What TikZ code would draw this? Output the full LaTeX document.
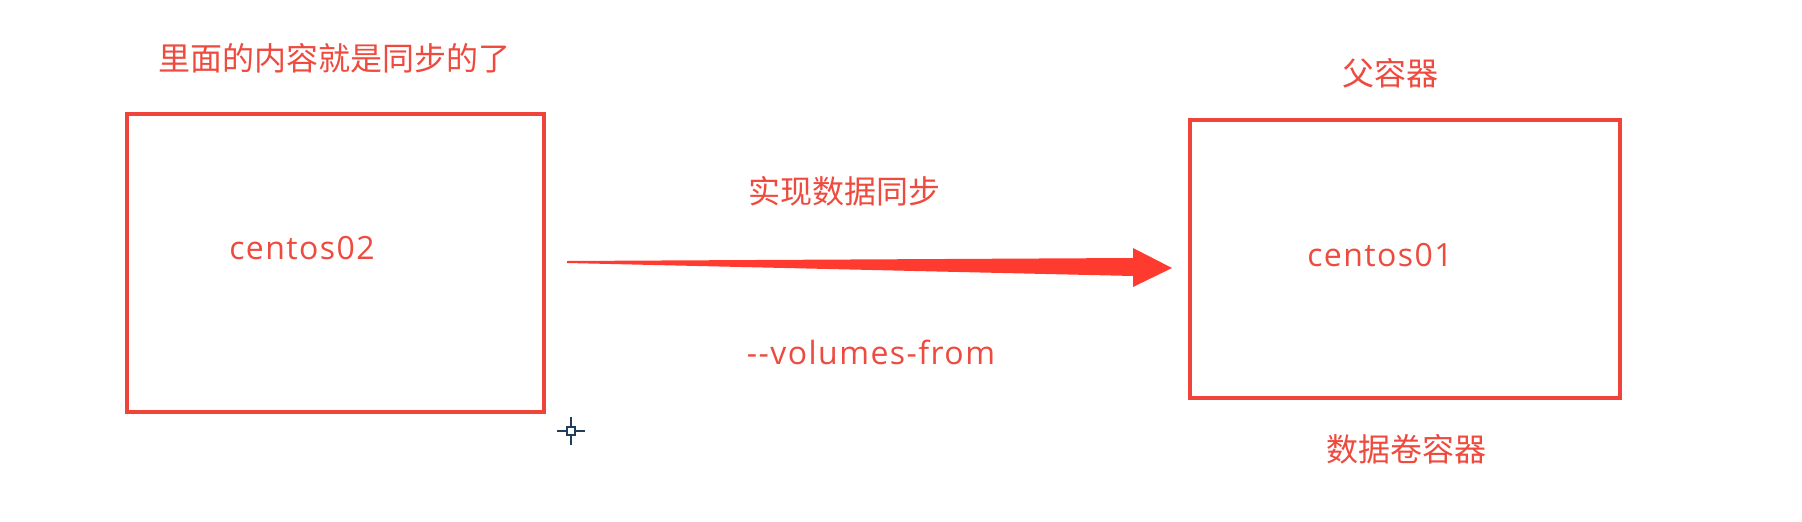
\documentclass[tikz,border=0pt]{standalone}
\usepackage{fontspec}
\usetikzlibrary{calc}
\setmainfont{Noto Sans CJK SC}
\newfontfamily\latfont[LetterSpace=4.5]{Open Sans}
\definecolor{boxred}{HTML}{F0443A}
\definecolor{txtred}{HTML}{EE4A3E}
\definecolor{arrred}{HTML}{FF3B30}
\definecolor{cursor}{HTML}{1F3E5C}
\begin{document}
\begin{tikzpicture}[x=1pt,y=-1pt,
  container/.style={draw=boxred,line width=4pt},
  cjk/.style={text=txtred,font=\fontsize{32}{34}\selectfont,inner sep=0pt},
  lat/.style={text=txtred,font=\latfont\fontsize{32}{34}\selectfont,inner sep=0pt}]
\useasboundingbox[fill=white] (0,0) rectangle (1802,522);
% boxes
\draw[container] (127,114) rectangle (544,412);
\draw[container] (1190,120) rectangle (1620,398);
% labels
\node[cjk] (t1) at (334,58) {里面的内容就是同步的了};
\node[cjk] (t2) at (1390,73) {父容器};
\node[cjk] (t3) at (1406,449) {数据卷容器};
\node[cjk] (t4) at (844,191) {实现数据同步};
\node[lat] (c2) at (302,248) {centos02};
\node[lat] (c1) at (1380,255) {centos01};
\node[lat] (vf) at (871,352) {-{}-volumes-from};
% tapered arrow
\coordinate (tail) at (567,262);
\coordinate (tip) at (1172,268);
\fill[arrred] ($(tail)+(0,-1)$) -- (1133,258) -- (1133,248) -- (tip) -- (1133,287) -- (1133,276) -- ($(tail)+(0,1)$) -- cycle;
% cursor
\coordinate (cur) at (571,431);
\draw[cursor,line width=2pt] ($(cur)+(-14,0)$) -- ($(cur)+(-4,0)$) ($(cur)+(4,0)$) -- ($(cur)+(14,0)$)
  ($(cur)+(0,-14)$) -- ($(cur)+(0,-4)$) ($(cur)+(0,4)$) -- ($(cur)+(0,14)$);
\draw[cursor,line width=1.5pt] ($(cur)+(-4,-4)$) rectangle ($(cur)+(4,4)$);
\end{tikzpicture}
\end{document}
